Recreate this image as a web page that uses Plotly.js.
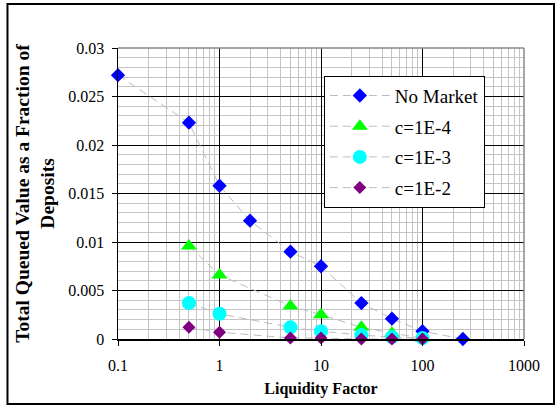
<!DOCTYPE html>
<html>
<head>
<meta charset="utf-8">
<script src="https://cdn.plot.ly/plotly-3.0.1.min.js"></script>
<style>
  html, body { margin: 0; padding: 0; background: #fff; }
  #chart { width: 555px; height: 406px; }
</style>
</head>
<body>
<div id="chart"></div>
<script>
// Liquidity factor values (x) for each scenario
const liquidityNoMarket = [0.1, 0.5, 1, 2, 5, 10, 25, 50, 100, 250];
const liquidityMarket = [0.5, 1, 5, 10, 25, 50, 100];

// Total queued value as a fraction of deposits
const noMarket = [0.0272, 0.0223, 0.0158, 0.0122, 0.0090, 0.0075, 0.0037, 0.0021, 0.0008, 0.0000];
const c1e4 = [0.0096, 0.0066, 0.0034, 0.0025, 0.0012, 0.0006, 0.0001];
const c1e3 = [0.0037, 0.0026, 0.0012, 0.0008, 0.0004, 0.0002, 0.0001];
const c1e2 = [0.0012, 0.0007, 0.0001, 0.0001, 0.0000, 0.0000, 0.0000];

// Axis ticks
const xTickVals = [0.1, 1, 10, 100, 1000];
const xTickText = ['0.1', '1', '10', '100', '1000'];
const yTickVals = [0, 0.005, 0.01, 0.015, 0.02, 0.025, 0.03];
const yTickText = ['0', '0.005', '0.01', '0.015', '0.02', '0.025', '0.03'];

const serif = '"Liberation Serif"';
const connector = { color: '#bdbdbd', width: 1, dash: '8px,5px' };

function series(name, x, y, symbol, color, size, group) {
  return {
    type: 'scatter', mode: 'lines+markers', name: name, x: x, y: y,
    legendgroup: group,
    line: connector,
    marker: { symbol: symbol, color: color, size: size, line: { width: 0 } },
    cliponaxis: false
  };
}

const traces = [
  series('No Market', liquidityNoMarket, noMarket, 'diamond', '#0000ff', 11, 'a'),
  series('c=1E-4', liquidityMarket, c1e4, 'triangle-up', '#00ff00', 14, 'b'),
  series('c=1E-3', liquidityMarket, c1e3, 'circle', '#00ffff', 14, 'c'),
  series('c=1E-2', liquidityMarket, c1e2, 'diamond', '#800080', 10, 'd')
];

const layout = {
  width: 555, height: 406,
  margin: { l: 118, r: 31, t: 48, b: 67 },
  paper_bgcolor: '#ffffff', plot_bgcolor: '#ffffff',
  font: { family: serif, size: 16, color: '#000' },
  showlegend: true,
  legend: {
    x: 0.507, y: 0.905, xanchor: 'left', yanchor: 'top',
    bgcolor: '#ffffff', bordercolor: '#000', borderwidth: 1,
    font: { family: serif, size: 19, color: '#000' },
    traceorder: 'grouped', tracegroupgap: 3, itemwidth: 60
  },
  xaxis: {
    type: 'log', range: [-1, 3],
    tickvals: xTickVals, ticktext: xTickText,
    ticks: 'outside', ticklen: 5, tickcolor: '#000', tickwidth: 1,
    ticklabelstandoff: 6,
    showline: true, linecolor: '#000', linewidth: 1.5,
    showgrid: true, gridcolor: '#000', gridwidth: 1,
    minor: { dtick: 'D1', showgrid: true, gridcolor: '#c4c4c4', gridwidth: 1, ticks: '' },
    zeroline: false,
    tickfont: { family: serif, size: 16, color: '#000' },
    title: { text: '<b>Liquidity Factor</b>', font: { family: serif, size: 16, color: '#000' }, standoff: 10 }
  },
  yaxis: {
    range: [0, 0.03],
    tickvals: yTickVals, ticktext: yTickText,
    ticks: 'outside', ticklen: 5, tickcolor: '#000', tickwidth: 1,
    ticklabelstandoff: 4,
    showline: true, linecolor: '#000', linewidth: 1.5,
    showgrid: true, gridcolor: '#000', gridwidth: 1,
    minor: { dtick: 0.001, showgrid: true, gridcolor: '#c4c4c4', gridwidth: 1, ticks: '' },
    zeroline: false,
    tickfont: { family: serif, size: 16, color: '#000' },
    title: { text: '<b>Total Queued Value as a Fraction of<br>Deposits</b>', font: { family: serif, size: 19.5, color: '#000' }, standoff: 8 }
  },
  shapes: [
    // outer chart frame
    { type: 'rect', xref: 'paper', yref: 'paper', x0: -0.2722, x1: 1.0739, y0: -0.2234, y1: 1.1512,
      line: { color: '#000', width: 2 }, layer: 'below' },
    // grey top and right edges of the plot area
    { type: 'line', xref: 'paper', yref: 'paper', x0: 0, x1: 1, y0: 1, y1: 1, line: { color: '#888', width: 1.5 } },
    { type: 'line', xref: 'paper', yref: 'paper', x0: 1, x1: 1, y0: 0, y1: 1, line: { color: '#888', width: 1.5 } }
  ]
};

Plotly.newPlot('chart', traces, layout, { displayModeBar: false, staticPlot: true });
</script>
</body>
</html>
